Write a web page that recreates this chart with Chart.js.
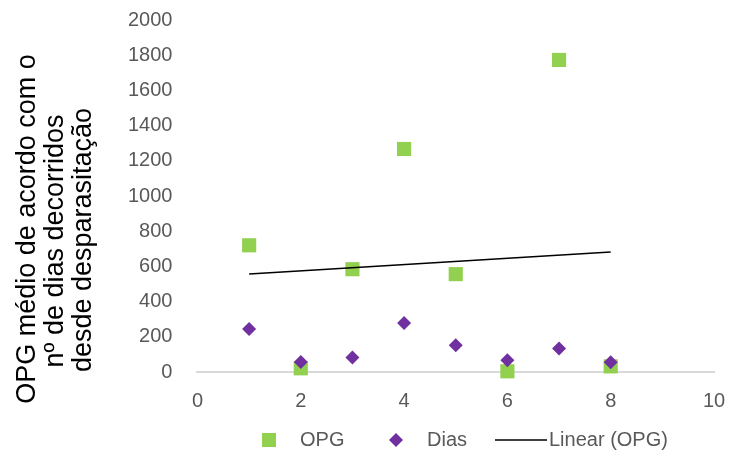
<!DOCTYPE html>
<html>
<head>
<meta charset="utf-8">
<script src="https://cdn.jsdelivr.net/npm/chart.js@4"></script>
<style>
    html, body { margin: 0; padding: 0; background: #fff; }
    #wrap { width: 730px; height: 452px; }
</style>
</head>
<body>
<div id="wrap"><canvas id="opgChart"></canvas></div>
<script>
// dias decorridos (eixo x)
const diasX = [1, 2, 3, 4, 5, 6, 7, 8];
// OPG médio
const opgValores = [720, 21, 584, 1267, 556, 4, 1773, 32];
// série "Dias"
const diasValores = [245, 57, 82, 279, 152, 67, 133, 55];
const xTicks = [0, 2, 4, 6, 8, 10];
const yTicks = [0, 200, 400, 600, 800, 1000, 1200, 1400, 1600, 1800, 2000];
const tituloY = ['OPG médio de acordo com o', 'nº de dias decorridos', 'desde desparasitação'];

// linha de tendência linear (mínimos quadrados sobre OPG)
const n = diasX.length;
const mx = diasX.reduce((a, b) => a + b, 0) / n;
const my = opgValores.reduce((a, b) => a + b, 0) / n;
let sxy = 0, sxx = 0;
diasX.forEach((x, i) => { sxy += (x - mx) * (opgValores[i] - my); sxx += (x - mx) * (x - mx); });
const slope = sxy / sxx;
const intercept = my - slope * mx;
const xMin = Math.min(...diasX), xMax = Math.max(...diasX);
const trend = [xMin, xMax].map(x => ({ x: x, y: intercept + slope * x }));

const tickColor = '#595959';
const fonte = 'Liberation Sans, Arial, sans-serif';

// título do eixo y e legenda desenhados à mão
const extrasPlugin = {
    id: 'extras',
    afterDraw(chart) {
        const ctx = chart.ctx;
        ctx.save();
        // título vertical
        ctx.fillStyle = '#000';
        ctx.font = '27px ' + fonte;
        ctx.textAlign = 'center';
        ctx.textBaseline = 'alphabetic';
        const linhas = [{ x: 35, y: 229 }, { x: 63, y: 241 }, { x: 91, y: 240 }];
        tituloY.forEach((t, i) => {
            ctx.save();
            ctx.translate(linhas[i].x, linhas[i].y);
            ctx.rotate(-Math.PI / 2);
            ctx.fillText(t, 0, 0);
            ctx.restore();
        });

        // legenda
        const ly = 440;
        const ds = chart.data.datasets;
        ctx.font = '20px ' + fonte;
        ctx.textAlign = 'left';
        ctx.textBaseline = 'middle';
        ctx.fillStyle = ds[0].backgroundColor;
        ctx.fillRect(262, ly - 7, 14, 14);
        ctx.fillStyle = tickColor;
        ctx.fillText(ds[0].label, 300, ly);

        ctx.fillStyle = ds[1].backgroundColor;
        ctx.beginPath();
        ctx.moveTo(396, ly - 7);
        ctx.lineTo(403, ly);
        ctx.lineTo(396, ly + 7);
        ctx.lineTo(389, ly);
        ctx.closePath();
        ctx.fill();
        ctx.fillStyle = tickColor;
        ctx.fillText(ds[1].label, 427, ly);

        ctx.strokeStyle = ds[2].borderColor;
        ctx.lineWidth = 1.5;
        ctx.beginPath();
        ctx.moveTo(495, ly);
        ctx.lineTo(547, ly);
        ctx.stroke();
        ctx.fillStyle = tickColor;
        ctx.fillText(ds[2].label, 549, ly);
        ctx.restore();
    }
};

new Chart(document.getElementById('opgChart'), {
    type: 'scatter',
    data: {
        datasets: [{
            label: 'OPG',
            data: diasX.map((x, i) => ({ x: x, y: opgValores[i] })),
            backgroundColor: '#92d050',
            borderColor: '#92d050',
            pointStyle: 'rect',
            pointRadius: 10,
            pointHoverRadius: 10,
            borderWidth: 0,
            clip: false,
            order: 3
        }, {
            label: 'Dias',
            data: diasX.map((x, i) => ({ x: x, y: diasValores[i] })),
            backgroundColor: '#7030a0',
            borderColor: '#7030a0',
            pointStyle: 'rectRot',
            pointRadius: 7,
            pointHoverRadius: 7,
            borderWidth: 0,
            clip: false,
            order: 2
        }, {
            type: 'line',
            label: 'Linear (OPG)',
            data: trend,
            borderColor: '#000',
            backgroundColor: '#000',
            borderWidth: 1.5,
            pointRadius: 0,
            fill: false,
            clip: false,
            order: 1
        }]
    },
    options: {
        responsive: true,
        maintainAspectRatio: false,
        animation: false,
        layout: { autoPadding: false, padding: { left: 103, right: 16, top: 20, bottom: 22 } },
        scales: {
            x: {
                type: 'linear',
                min: 0,
                max: 10,
                afterBuildTicks: axis => { axis.ticks = xTicks.map(v => ({ value: v })); },
                afterFit: axis => { axis.paddingLeft = 0; axis.paddingRight = 0; },
                grid: { display: false, drawTicks: false },
                border: { display: true, color: '#d9d9d9', width: 2 },
                ticks: { color: tickColor, font: { family: fonte, size: 20 }, padding: 17 }
            },
            y: {
                min: 0,
                max: 2000,
                afterBuildTicks: axis => { axis.ticks = yTicks.map(v => ({ value: v })); },
                afterFit: axis => { axis.paddingTop = 0; axis.paddingBottom = 0; },
                grid: { display: false, drawTicks: false },
                border: { display: false },
                ticks: {
                    color: tickColor,
                    font: { family: fonte, size: 20 },
                    padding: 25,
                    callback: v => String(v)
                }
            }
        },
        plugins: {
            legend: { display: false },
            tooltip: { enabled: false }
        }
    },
    plugins: [extrasPlugin]
});
</script>
</body>
</html>
